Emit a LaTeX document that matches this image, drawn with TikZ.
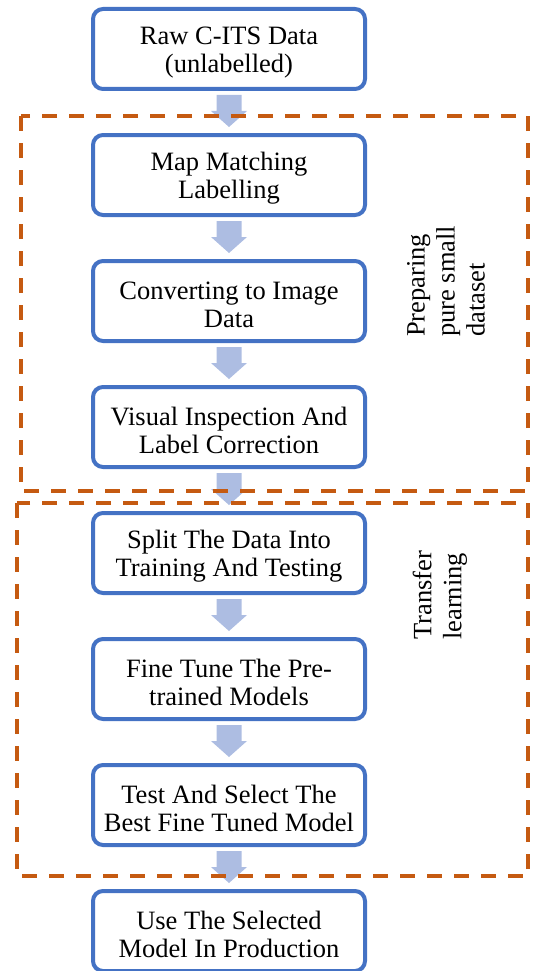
\documentclass[tikz,border=0pt]{standalone}
\usepackage{fontspec}
\setmainfont{Liberation Serif}
\newfontfamily\stepfont{Liberation Serif}
\usetikzlibrary{calc}
\definecolor{boxblue}{HTML}{4472C4}
\definecolor{arrowblue}{HTML}{ADBDE2}
\definecolor{grouporange}{HTML}{C55A11}
% a rounded step box with its two-line caption set slightly low
\newcommand\stepnode[3]{%
  \node[stepbox] (#1) at #2 {};
  \node[steptext] (#1t) at ([yshift=-3.5pt]#1.center) {#3};}
\begin{document}
\begin{tikzpicture}[x=1pt,y=-1pt,
  stepbox/.style={draw=boxblue, line width=4pt, rounded corners=10pt,
    minimum width=272pt, minimum height=80pt, inner sep=0pt, outer sep=0pt},
  steptext/.style={align=center, inner sep=0pt,
    font=\stepfont\fontsize{26.5}{28}\selectfont},
  groupframe/.style={draw=grouporange, line width=4pt, dash pattern=on 15pt off 12pt},
  grouplabel/.style={rotate=90, anchor=west, align=left, inner sep=0pt,
    font=\stepfont\fontsize{26.5}{30}\selectfont}]
\useasboundingbox (0,0) rectangle (534,971);

% process steps
\stepnode{b1}{(229,49)}{Raw C-ITS Data\\(unlabelled)}
\stepnode{b2}{(229,175)}{Map Matching\\Labelling}
\stepnode{b3}{(229,301)}{Converting to Image\\Data}
\stepnode{b4}{(229,427)}{Visual Inspection And\\Label Correction}
\stepnode{b5}{(229,553)}{Split The Data Into\\Training And Testing}
\stepnode{b6}{(229,679)}{Fine Tune The Pre-\\trained Models}
\stepnode{b7}{(229,805)}{Test And Select The\\Best Fine Tuned Model}
\stepnode{b8}{(229,931)}{Use The Selected\\Model In Production}

% block arrows between consecutive steps
\foreach \a/\b in {b1/b2,b2/b3,b3/b4,b4/b5,b5/b6,b6/b7,b7/b8}{
  \fill[arrowblue]
    ($(\a.south)+(-12.5,6)$) -- ($(\a.south)+(12.5,6)$) --
    ($(\a.south)+(12.5,22)$) -- ($(\a.south)+(18,22)$) --
    ($(\b.north)+(0,-8)$) --
    ($(\a.south)+(-18,22)$) -- ($(\a.south)+(-12.5,22)$) -- cycle;
}

% dashed group frames
\draw[groupframe] (21,116) rectangle (528,491);
\draw[groupframe] (17,503) rectangle (528,876);

% group labels
\node[grouplabel] (g1) at (446,337) {Preparing\\pure small\\dataset};
\node[grouplabel] (g2) at (440,640) {Transfer\\learning};
\end{tikzpicture}
\end{document}
